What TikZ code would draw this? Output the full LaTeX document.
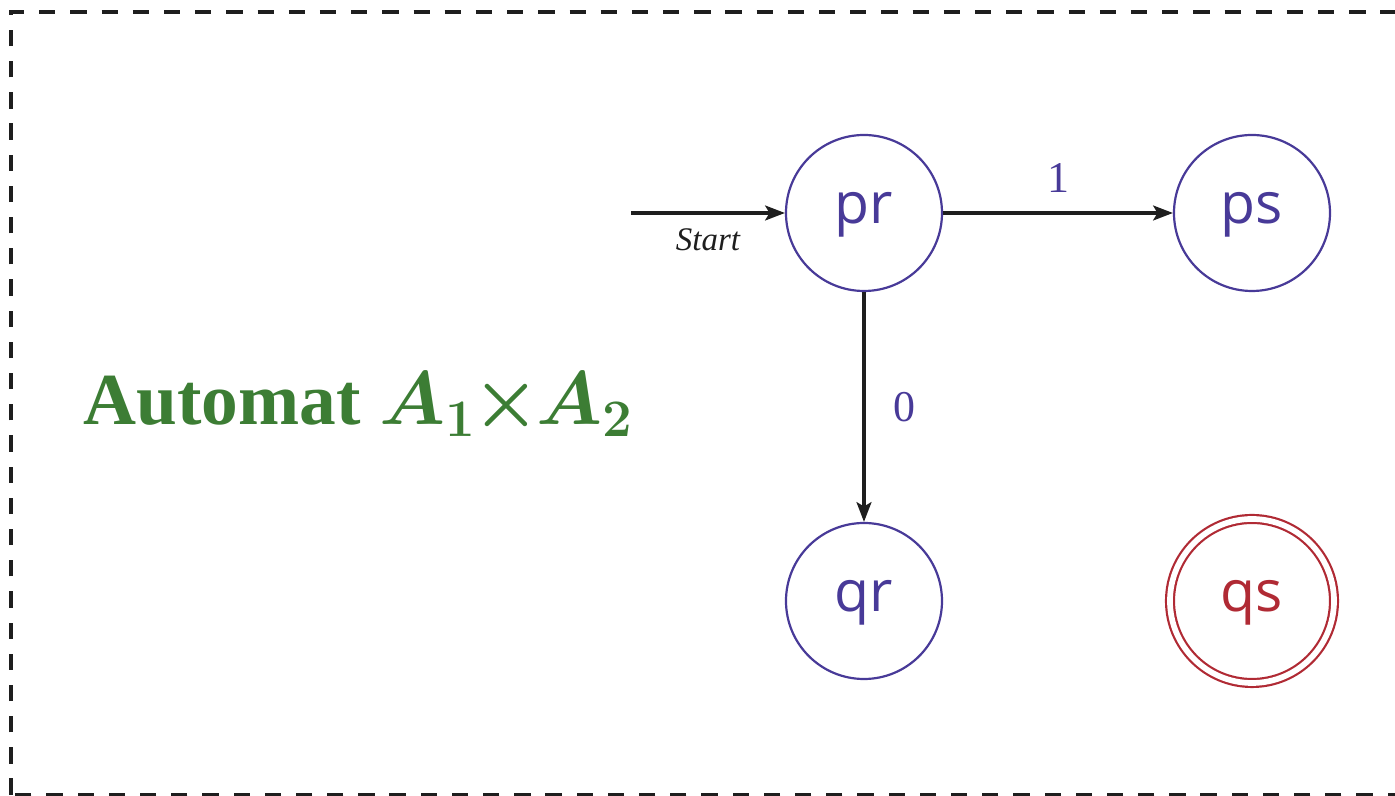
\documentclass[tikz,border=0pt]{standalone}
\usepackage{bm}
\usepackage{fontspec}
\setmainfont{Liberation Serif}
\newfontfamily\statefont{Open Sans}
\usepackage{tikz}
\usetikzlibrary{arrows.meta,positioning,calc}
\definecolor{stateblue}{RGB}{72,58,152}
\definecolor{finalred}{RGB}{176,42,52}
\definecolor{titlegreen}{RGB}{60,125,52}
\definecolor{inkgray}{RGB}{30,30,30}

\begin{document}
\begin{tikzpicture}[>={Stealth[length=4.5pt,width=3.4pt,inset=1pt]},
    state/.style={circle, draw=stateblue, line width=0.5pt, minimum size=1.248cm, inner sep=0pt,
      text=stateblue, text height=0.6em, text depth=0.12em, font=\statefont\fontsize{13}{13}\selectfont},
    accept/.style={state, draw=finalred, text=finalred, minimum size=1.312cm,
      double, double distance=1.3pt},
    trans/.style={->, draw=inkgray, line width=0.7pt},
    lbl/.style={text=stateblue, font=\fontsize{10}{10}\selectfont}]
        \useasboundingbox (0,0) rectangle (11.16,6.368);
        \draw[inkgray, line width=0.7pt, dash pattern=on 3.7pt off 3.4pt] (0.088,0.01) rectangle (11.5,6.272);
        % product automaton
        \node[state] (pr) at (6.912,4.664) {pr};
        \node[state] (ps) at (10.016,4.664) {ps};
        \node[state] (qr) at (6.912,1.56) {qr};
        \node[accept] (qs) at (10.016,1.56) {qs};
        \coordinate (start) at (5.048,4.664);
        \node[anchor=base, text=titlegreen, font=\fontsize{16.7}{16.7}\selectfont\bfseries] (heading) at (2.872,2.968) {Automat $\bm{A_1\mkern-1mu{\times}\mkern-1mu A_2}$};
        \draw[trans] (start) -- node[midway, below, text=inkgray, font=\fontsize{7.5}{7.5}\selectfont\itshape] (startlbl) {Start} (pr);
        \draw[trans] (pr) -- node[midway, above, lbl, yshift=1pt] (one) {1} (ps);
        \draw[trans] (pr) -- node[midway, right, lbl, xshift=3pt] (zero) {0} (qr);
      \end{tikzpicture}
\end{document}
